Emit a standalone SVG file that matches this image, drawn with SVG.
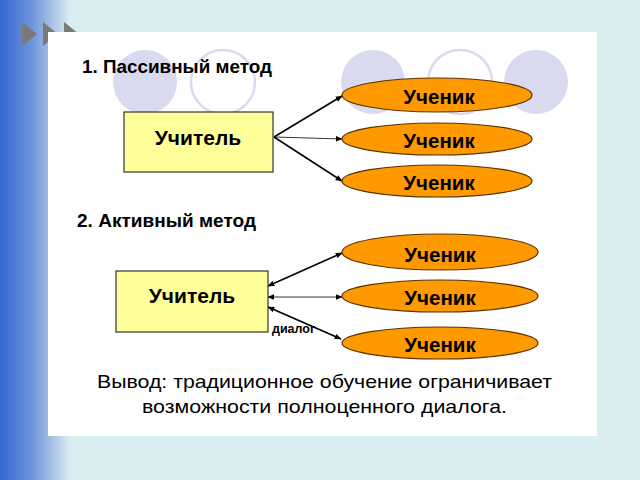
<svg xmlns="http://www.w3.org/2000/svg" width="640" height="480" viewBox="0 0 640 480">
<defs>
<linearGradient id="side" x1="0" y1="0" x2="1" y2="0">
<stop offset="0" stop-color="#3566d2"/>
<stop offset="0.45" stop-color="#6d94da"/>
<stop offset="0.75" stop-color="#a9c3e6"/>
<stop offset="1" stop-color="#daeef1"/>
</linearGradient>
<marker id="ah" viewBox="0 0 10 10" refX="9" refY="5" markerWidth="7" markerHeight="7" markerUnits="userSpaceOnUse" orient="auto-start-reverse">
<path d="M0,1 L10,5 L0,9 z" fill="#000"/>
</marker>
<style>
.title{font-family:"Liberation Sans",Arial,sans-serif;font-weight:bold;font-size:18px;fill:#000}
.teacher rect{fill:#ffff99;stroke:#333;stroke-width:1.2}
.teacher text{font-family:"Liberation Sans",Arial,sans-serif;font-weight:bold;font-size:21px;fill:#000;text-anchor:middle}
.pupil ellipse{fill:#ff9900;stroke:#5a3300;stroke-width:1.2}
.pupil text{font-family:"Liberation Sans",Arial,sans-serif;font-weight:bold;font-size:20.5px;fill:#000;text-anchor:middle}
.conn line{stroke:#000}
.concl{font-family:"Liberation Sans",Arial,sans-serif;font-size:19px;fill:#000}
.bgc{fill:#d9d9ef}
.bgo{fill:none;stroke:#d9d9ef;stroke-width:2.5}
</style>
</defs>
<rect width="640" height="480" fill="#daeef1"/>
<rect x="0" y="0" width="70" height="480" fill="url(#side)"/>
<g fill="#7a7a7a">
<polygon points="22,22 37,34 22,46"/>
<polygon points="43,22 58,34 43,46"/>
<polygon points="64,22 79,34 64,46"/>
</g>
<rect x="48" y="32" width="549" height="404" fill="#ffffff"/>
<g id="bg-circles">
<circle class="bgc" cx="145" cy="82" r="32"/>
<circle class="bgo" cx="223" cy="82" r="32"/>
<circle class="bgc" cx="373" cy="82" r="32"/>
<circle class="bgo" cx="460" cy="82" r="32"/>
<circle class="bgc" cx="536" cy="82" r="32"/>
</g>
<text class="title" x="82" y="73" textLength="190" lengthAdjust="spacingAndGlyphs">1. Пассивный метод</text>
<text class="title" x="77" y="227" textLength="179" lengthAdjust="spacingAndGlyphs">2. Активный метод</text>
<g id="connectors" class="conn">
<line x1="274" y1="137" x2="342" y2="96" stroke-width="1.6" marker-end="url(#ah)"/>
<line x1="274" y1="137" x2="342" y2="139" stroke-width="0.8" marker-end="url(#ah)"/>
<line x1="274" y1="137" x2="342" y2="181" stroke-width="1.6" marker-end="url(#ah)"/>
<line x1="268" y1="286" x2="342" y2="253" stroke-width="1.6" marker-start="url(#ah)" marker-end="url(#ah)"/>
<line x1="268" y1="297" x2="342" y2="297" stroke-width="0.8" marker-start="url(#ah)" marker-end="url(#ah)"/>
<line x1="268" y1="307" x2="341" y2="339" stroke-width="1.6" marker-start="url(#ah)" marker-end="url(#ah)"/>
<text x="272" y="333" font-family="Liberation Sans,Arial,sans-serif" font-weight="bold" font-size="12.5" fill="#000">диалог</text>
</g>
<g id="teacher1" class="teacher">
<rect x="124" y="112" width="149" height="60"/>
<text x="198" y="145">Учитель</text>
</g>
<g id="pupil1" class="pupil">
<ellipse cx="437" cy="95" rx="95" ry="17"/>
<text x="439" y="104">Ученик</text>
</g>
<g id="pupil2" class="pupil">
<ellipse cx="437" cy="139" rx="95" ry="16"/>
<text x="439" y="148">Ученик</text>
</g>
<g id="pupil3" class="pupil">
<ellipse cx="437" cy="181" rx="95" ry="16"/>
<text x="439" y="190">Ученик</text>
</g>
<g id="teacher2" class="teacher">
<rect x="116" y="271" width="152" height="61"/>
<text x="192" y="303">Учитель</text>
</g>
<g id="pupil4" class="pupil">
<ellipse cx="440" cy="252" rx="98" ry="18"/>
<text x="440" y="262">Ученик</text>
</g>
<g id="pupil5" class="pupil">
<ellipse cx="440" cy="296" rx="98" ry="16"/>
<text x="440" y="305">Ученик</text>
</g>
<g id="pupil6" class="pupil">
<ellipse cx="440" cy="343" rx="98" ry="16"/>
<text x="440" y="352">Ученик</text>
</g>
<text class="concl" x="97" y="388" textLength="455" lengthAdjust="spacingAndGlyphs">Вывод: традиционное обучение ограничивает</text>
<text class="concl" x="142" y="413" textLength="365" lengthAdjust="spacingAndGlyphs">возможности полноценного диалога.</text>
</svg>
